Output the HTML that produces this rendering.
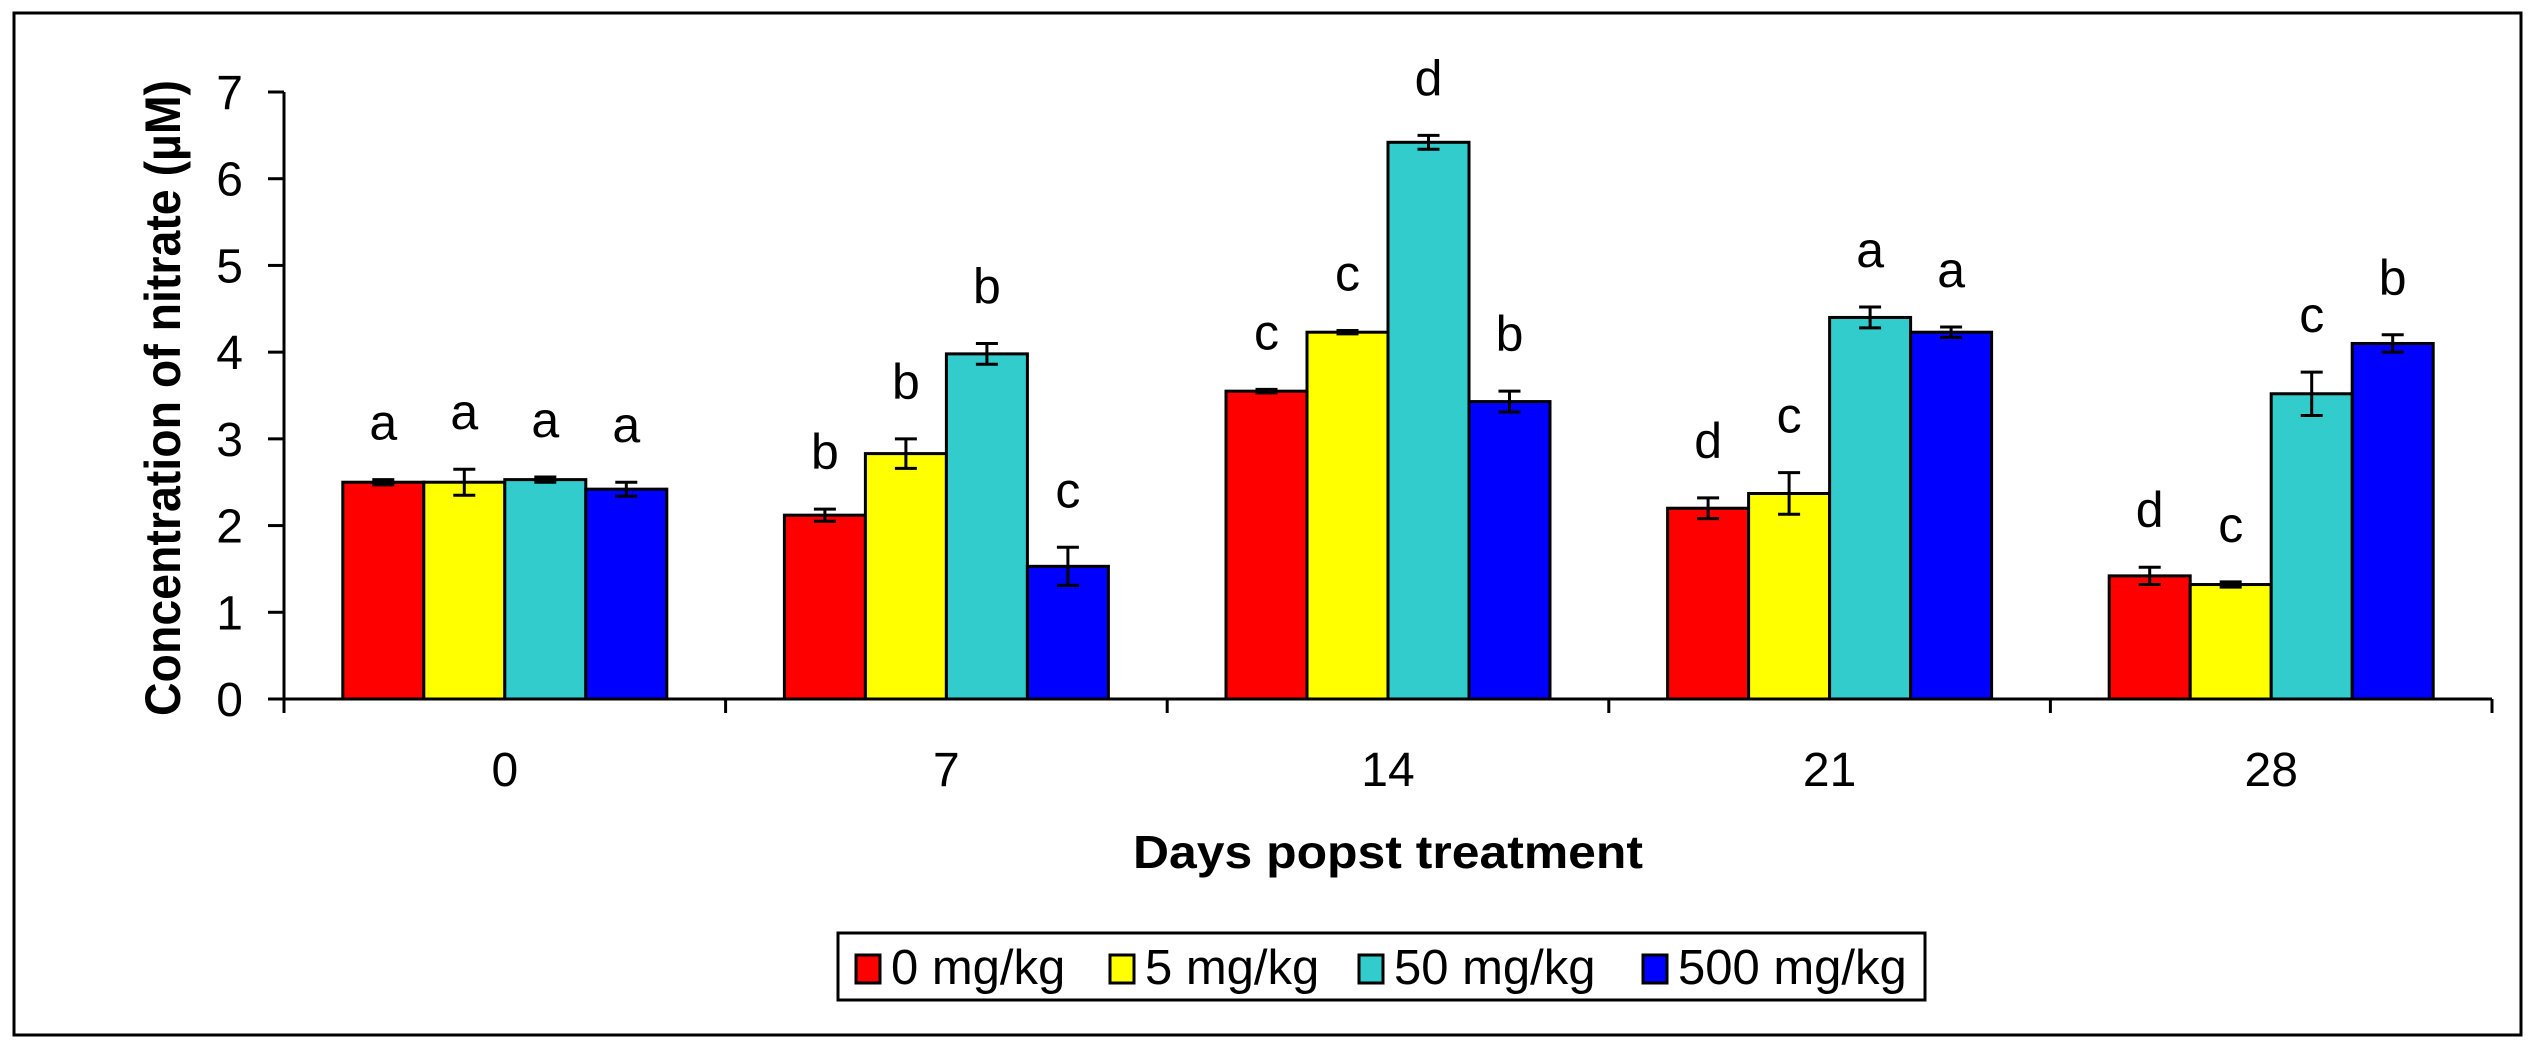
<!DOCTYPE html>
<html><head><meta charset="utf-8"><style>html,body{margin:0;padding:0;background:#fff}svg{display:block}</style></head>
<body>
<svg id="chart" width="2537" height="1047" viewBox="0 0 2537 1047" xmlns="http://www.w3.org/2000/svg" font-family="Liberation Sans, Arial, sans-serif">
<rect x="14" y="13" width="2507" height="1022" fill="#fff" stroke="#000" stroke-width="3"/>
<g id="plot"></g>
<text x="163" y="398" font-size="50" font-weight="bold" text-anchor="middle" transform="rotate(-90 163 398)" textLength="636" lengthAdjust="spacingAndGlyphs" dominant-baseline="central">Concentration of nitrate (µM)</text>
<text x="1388" y="868" font-size="46" font-weight="bold" text-anchor="middle" textLength="510" lengthAdjust="spacingAndGlyphs">Days popst treatment</text>
<g>
<rect x="838" y="933" width="1087" height="67" fill="#fff" stroke="#000" stroke-width="3"/>
<g id="legend-items"></g>
</g>
</svg>
<script>
const categories = ["0", "7", "14", "21", "28"];
const seriesNames = ["0 mg/kg", "5 mg/kg", "50 mg/kg", "500 mg/kg"];
const seriesColors = ["#ff0000", "#ffff00", "#33cccc", "#0000ff"];
const s0 = [2.50, 2.12, 3.55, 2.20, 1.42];
const s5 = [2.50, 2.83, 4.23, 2.37, 1.32];
const s50 = [2.53, 3.98, 6.42, 4.40, 3.52];
const s500 = [2.42, 1.53, 3.43, 4.23, 4.10];
const e0 = [0.03, 0.07, 0.02, 0.12, 0.10];
const e5 = [0.15, 0.17, 0.02, 0.24, 0.03];
const e50 = [0.03, 0.12, 0.08, 0.12, 0.25];
const e500 = [0.08, 0.22, 0.12, 0.06, 0.10];
const l0 = ["a", "b", "c", "d", "d"];
const l5 = ["a", "b", "c", "c", "c"];
const l50 = ["a", "b", "d", "a", "c"];
const l500 = ["a", "c", "b", "a", "b"];
const yTicks = [0, 1, 2, 3, 4, 5, 6, 7];

const NS = "http://www.w3.org/2000/svg";
const X0 = 284, X1 = 2492, Y0 = 699, Y7 = 92;
const yScale = v => Y0 - (v / 7) * (Y0 - Y7);
const groupW = (X1 - X0) / categories.length;
const barW = 81;
const xBar = (ci, si) => X0 + ci * groupW + (groupW - 4 * barW) / 2 + si * barW;
function mk(tag, attrs, parent) { const e = document.createElementNS(NS, tag); for (const k in attrs) e.setAttribute(k, attrs[k]); parent.appendChild(e); return e; }
const plot = document.getElementById('plot');
const vals = [s0, s5, s50, s500], errs = [e0, e5, e50, e500], labs = [l0, l5, l50, l500];

vals.forEach((ser, si) => {
  ser.forEach((v, ci) => {
    const x = xBar(ci, si);
    const r = mk('rect', { x: x, y: yScale(v), width: barW, height: Y0 - yScale(v), fill: seriesColors[si], stroke: '#000', 'stroke-width': 3 }, plot);
    
    
    const e = errs[si][ci], cx = x + barW / 2;
    const g = mk('g', { stroke: '#000', 'stroke-width': 3 }, plot);
    
    
    mk('line', { x1: cx, x2: cx, y1: yScale(v + e), y2: yScale(v - e) }, g);
    mk('line', { x1: cx - 11, x2: cx + 11, y1: yScale(v + e), y2: yScale(v + e) }, g);
    mk('line', { x1: cx - 11, x2: cx + 11, y1: yScale(v - e), y2: yScale(v - e) }, g);
    const t = mk('text', { x: cx, y: yScale(v + e) - 40, 'font-size': 50, 'text-anchor': 'middle' }, plot);
    t.textContent = labs[si][ci];
    
    
  });
});

const ax = mk('g', { stroke: '#000', 'stroke-width': 3 }, plot);


mk('line', { x1: X0, x2: X0, y1: Y7, y2: Y0 + 14 }, ax);
mk('line', { x1: X0 - 16, x2: X1, y1: Y0, y2: Y0 }, ax);
yTicks.forEach(t => {
  mk('line', { x1: X0 - 16, x2: X0, y1: yScale(t), y2: yScale(t) }, ax);
  const tx = mk('text', { x: 243, y: yScale(t) + 17, 'font-size': 48, 'text-anchor': 'end' }, plot);
  tx.textContent = t;
  
  
});
for (let i = 1; i <= categories.length; i++) mk('line', { x1: X0 + i * groupW, x2: X0 + i * groupW, y1: Y0, y2: Y0 + 14 }, ax);
categories.forEach((c, ci) => {
  const tx = mk('text', { x: X0 + (ci + 0.5) * groupW, y: 786, 'font-size': 48, 'text-anchor': 'middle' }, plot);
  tx.textContent = c;
  
  
});

const leg = document.getElementById('legend-items');
const legX = [856, 1110, 1359, 1643];
seriesNames.forEach((n, i) => {
  const r = mk('rect', { x: legX[i], y: 955, width: 24, height: 28, fill: seriesColors[i], stroke: '#000', 'stroke-width': 3 }, leg);
  
  
  const t = mk('text', { x: legX[i] + 35, y: 984, 'font-size': 49 }, leg);
  t.textContent = n;
  
  
});
</script>
</body></html>
